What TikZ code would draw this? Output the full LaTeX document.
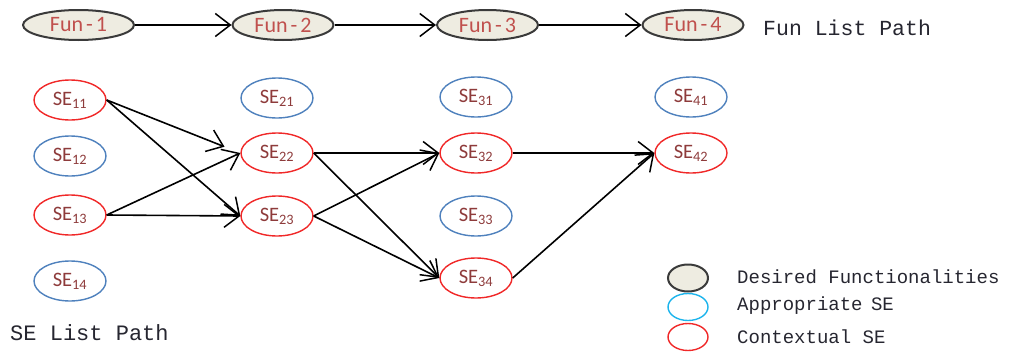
\documentclass[tikz,border=0pt]{standalone}
\usepackage{fontspec}
\setmainfont{Carlito}
\newfontfamily\monofont{Liberation Mono}
\usetikzlibrary{shapes.geometric,arrows.meta}
\definecolor{funfill}{HTML}{EEECE1}
\definecolor{funline}{HTML}{3A3A3A}
\definecolor{funtext}{HTML}{C0504D}
\definecolor{setext}{HTML}{8E3B3B}
\definecolor{ctxred}{HTML}{F02828}
\definecolor{appblue}{HTML}{4F81BD}
\definecolor{legblue}{HTML}{1CB4EC}
\definecolor{lbltext}{HTML}{262630}

\begin{document}
\begin{tikzpicture}[x=1pt,y=-1pt,
		fun/.style={ellipse,draw=funline,line width=2pt,fill=funfill,minimum width=101pt,minimum height=30pt,inner sep=0pt,text=funtext,font=\fontsize{22}{24}\selectfont},
		se/.style={ellipse,line width=1.4pt,minimum width=72pt,minimum height=40pt,inner sep=0pt,text=setext,font=\fontsize{20.5}{24}\selectfont},
		ctx/.style={se,draw=ctxred},
		app/.style={se,draw=appblue},
		lbl/.style={anchor=west,inner sep=0pt,text=lbltext,font=\monofont\fontsize{19}{22}\selectfont},
		link/.style={line width=1.6pt,-{Straight Barb[length=15pt,width=23pt,line width=1.5pt]}}]
	\useasboundingbox (0,0) rectangle (1009,351);
	\node[fun,minimum width=111pt] (F1) at (78.5,25) {Fun\kern3pt-\kern3pt1};
	\node[fun] (F2) at (283,25) {Fun\kern3pt-\kern3pt2};
	\node[fun] (F3) at (487.5,25) {Fun\kern3pt-\kern3pt3};
	\node[fun] (F4) at (693,25) {Fun\kern3pt-\kern3pt4};
	\node[lbl,font=\monofont\fontsize{21.5}{24}\selectfont] (funpath) at (763,28) {Fun List Path};
	\node[ctx] (S11) at (70,100) {SE\textsubscript{11}};
	\node[app] (S12) at (70,156) {SE\textsubscript{12}};
	\node[ctx] (S13) at (70,215) {SE\textsubscript{13}};
	\node[app] (S14) at (70,281) {SE\textsubscript{14}};
	\node[app] (S21) at (277,98) {SE\textsubscript{21}};
	\node[ctx] (S22) at (277,153) {SE\textsubscript{22}};
	\node[ctx] (S23) at (277,216) {SE\textsubscript{23}};
	\node[app] (S31) at (476,97) {SE\textsubscript{31}};
	\node[ctx] (S32) at (476,153) {SE\textsubscript{32}};
	\node[app] (S33) at (476,216) {SE\textsubscript{33}};
	\node[ctx] (S34) at (476,278) {SE\textsubscript{34}};
	\node[app] (S41) at (691,97) {SE\textsubscript{41}};
	\node[ctx] (S42) at (691,153) {SE\textsubscript{42}};
	\node[lbl,font=\monofont\fontsize{22}{24}\selectfont] (sepath) at (10,333) {SE List Path};
	\node[fun,minimum width=40pt,minimum height=27pt] (legfun) at (688,278) {};
	\node[se,draw=legblue,minimum width=40pt,minimum height=27pt] (legapp) at (688,307) {};
	\node[se,draw=ctxred,minimum width=40pt,minimum height=27pt] (legctx) at (688,337) {};
	\node[lbl] (legfuntext) at (737,277) {Desired Functionalities};
	\node[lbl] (legapptext) at (737,306) {Appropriate\kern-3pt\ SE};
	\node[lbl] (legctxtext) at (737,337) {Contextual SE};
	\draw[link] (F1) -- (F2);
	\draw[link] (F2) -- (F3);
	\draw[link] (F3) -- (F4);
	\draw[link,shorten >=17pt] (S11.east) -- (S22.west);
	\draw[link] (S11.east) -- (S23.west);
	\draw[link] (S13.east) -- (S22.west);
	\draw[link] (S13.east) -- (S23.west);
	\draw[link] (S22.east) -- (S32.west);
	\draw[link] (S22.east) -- (S34.west);
	\draw[link] (S23.east) -- (S32.west);
	\draw[link] (S23.east) -- (S34.west);
	\draw[link] (S32.east) -- (S42.west);
	\draw[link] (S34.east) -- (S42.west);
\end{tikzpicture}
\end{document}
